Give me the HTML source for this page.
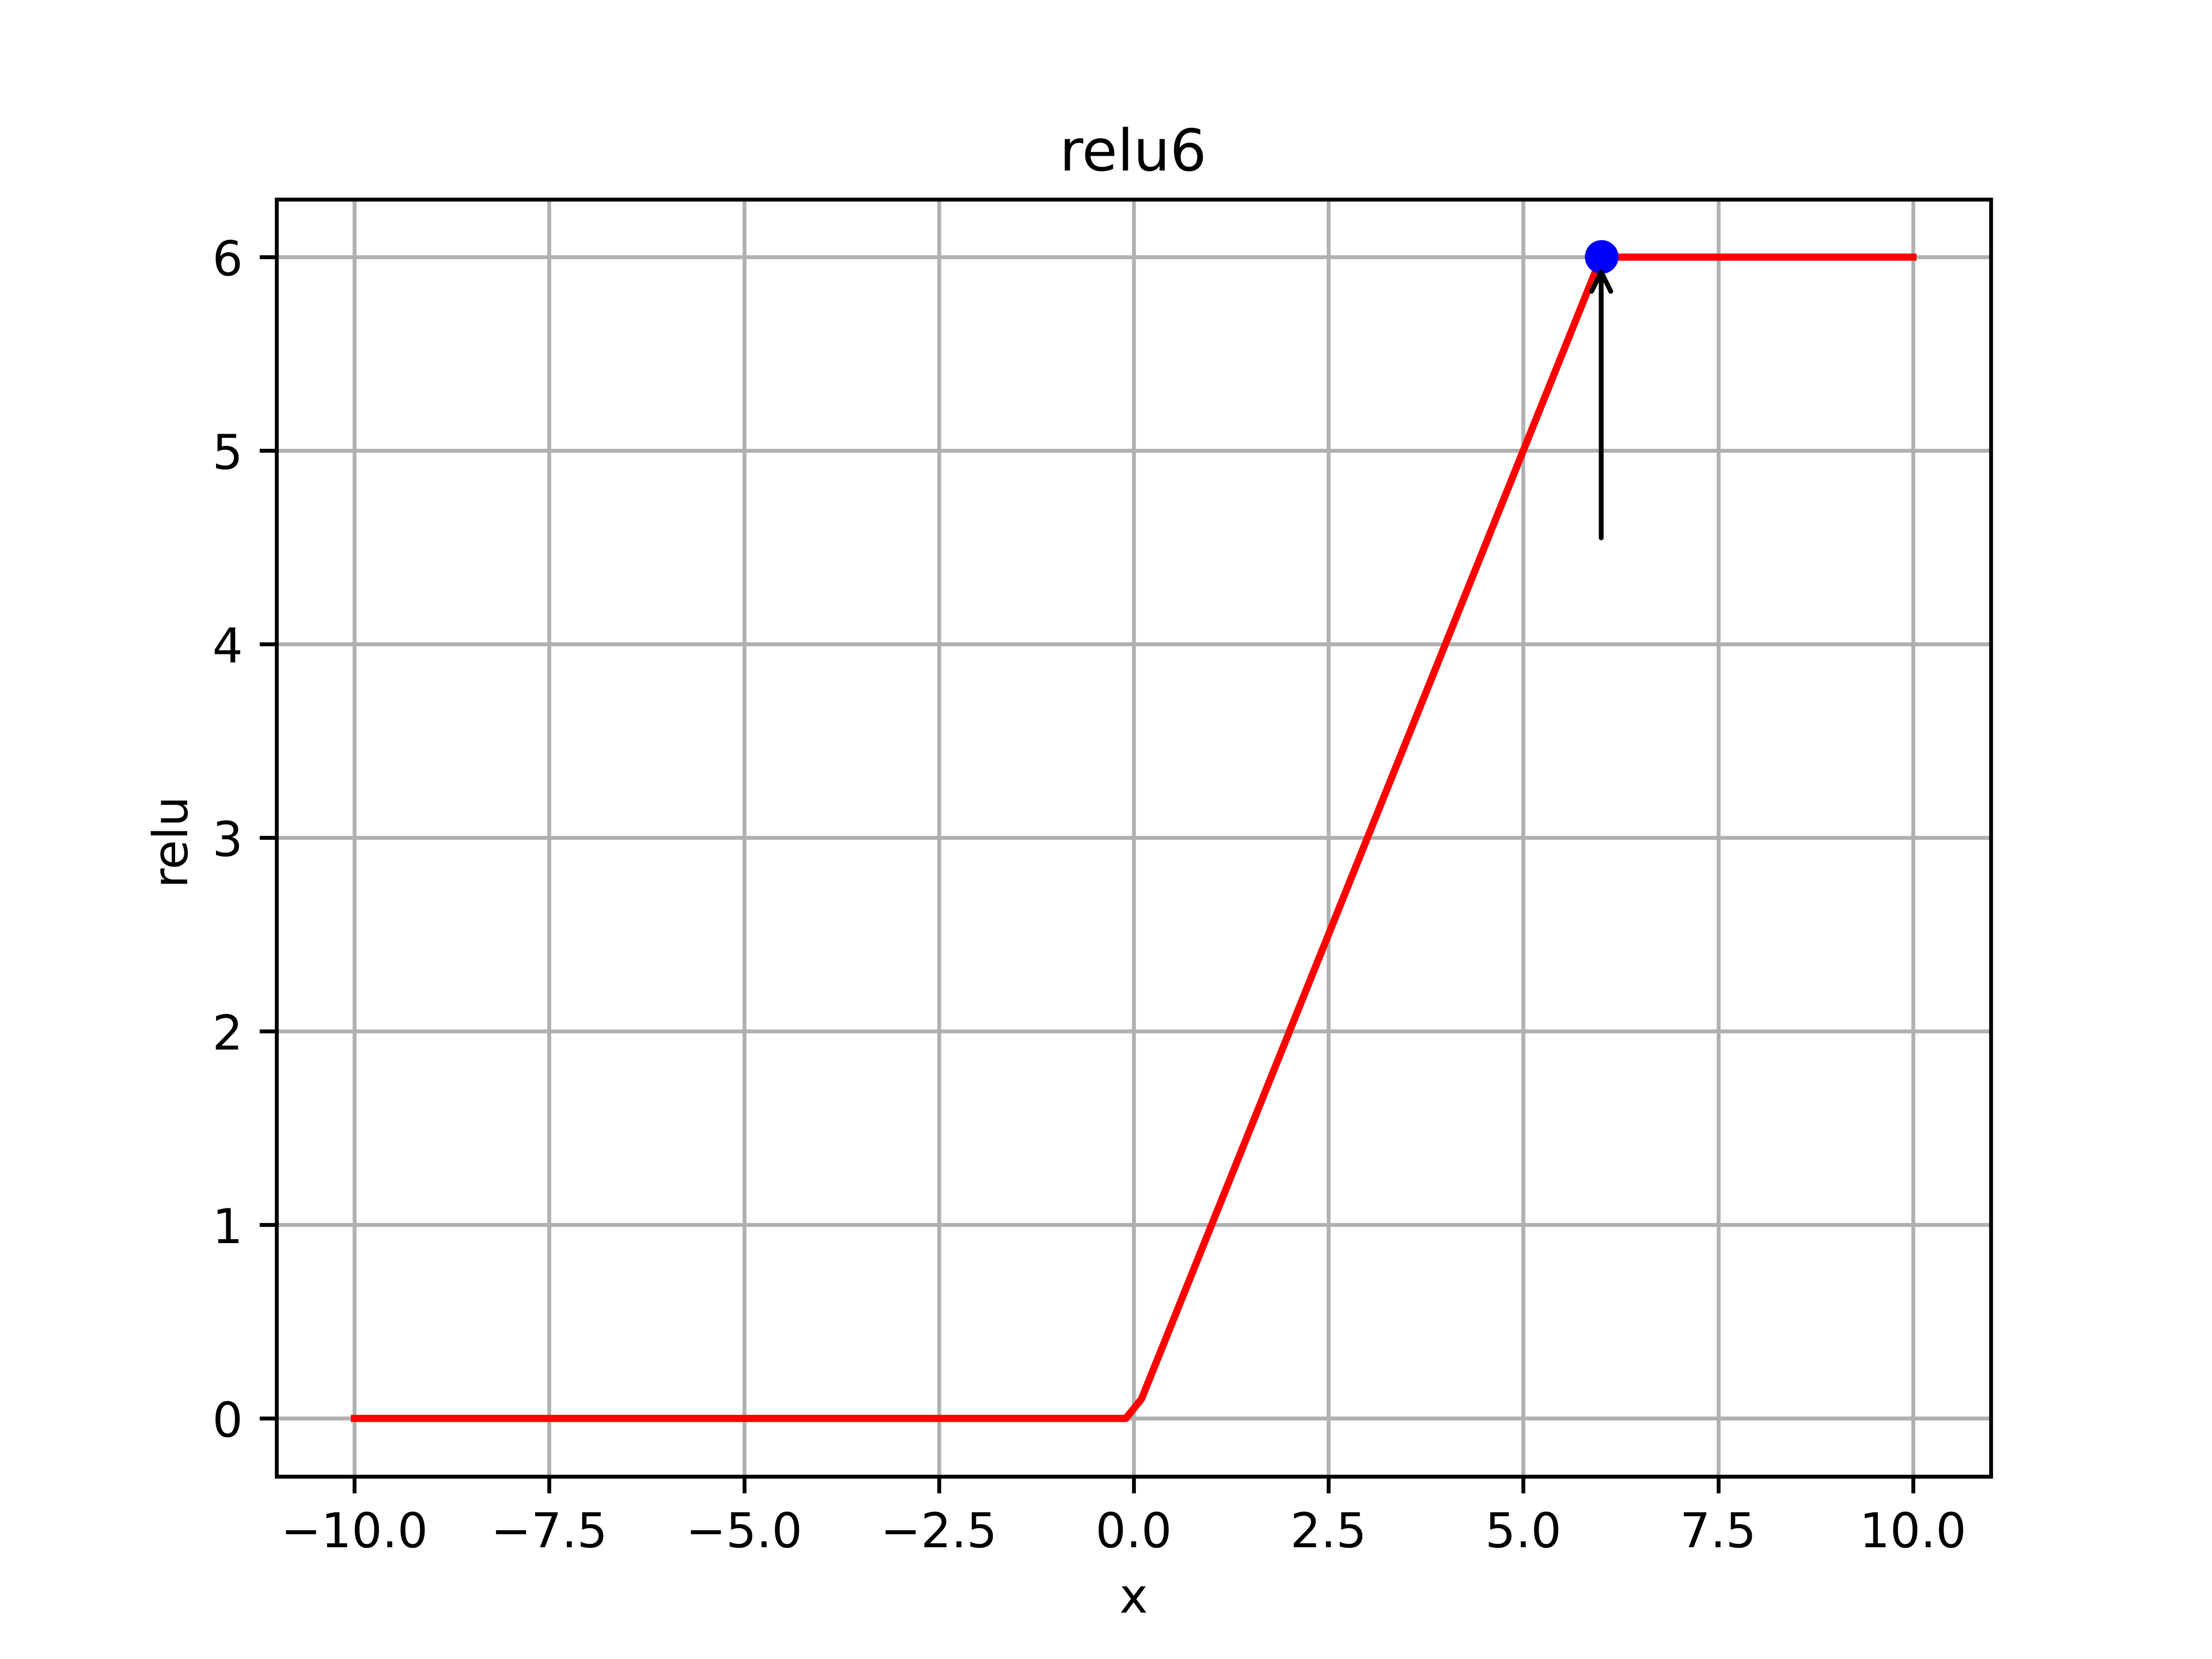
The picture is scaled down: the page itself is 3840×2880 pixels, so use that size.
<!DOCTYPE html>
<html lang="en">
<head>
<meta charset="utf-8">
<title>relu6</title>
<style>
  html, body { margin: 0; padding: 0; background: #ffffff; }
  body { width: 3840px; height: 2880px; overflow: hidden; }
  svg { display: block; }
  text { font-family: "DejaVu Sans", "Liberation Sans", sans-serif; fill: #000000; text-rendering: geometricPrecision; }
</style>
</head>
<body>
<svg id="chart" xmlns="http://www.w3.org/2000/svg" width="3840" height="2880" viewBox="0 0 3840 2880"></svg>
<script>
const xTickValues = [-10, -7.5, -5, -2.5, 0, 2.5, 5, 7.5, 10];
const xTickLabels = ["\u221210.0", "\u22127.5", "\u22125.0", "\u22122.5", "0.0", "2.5", "5.0", "7.5", "10.0"];
const yTickValues = [0, 1, 2, 3, 4, 5, 6];
const yTickLabels = ["0", "1", "2", "3", "4", "5", "6"];
const seriesX = [-10, -0.101, 0.101, 5.96, 6.162, 10];
const seriesY = [0, 0, 0.101, 5.96, 6, 6];
const markerPoint = [6, 6];
const arrowTail = [6, 4.5];
const arrowHead = [6, 6];
const xDomain = [-11, 11];
const yDomain = [-0.3, 6.3];
const titleText = "relu6";
const xLabelText = "x";
const yLabelText = "relu";

const svg = document.getElementById('chart');
const NS = 'http://www.w3.org/2000/svg';
const plot = { left: 480, right: 3456, top: 345.6, bottom: 2563.2 };
const STROKE = 6.667;

function xScale(v) { return plot.left + (v - xDomain[0]) / (xDomain[1] - xDomain[0]) * (plot.right - plot.left); }
function yScale(v) { return plot.bottom - (v - yDomain[0]) / (yDomain[1] - yDomain[0]) * (plot.bottom - plot.top); }
function snap(v) { return Math.floor(v + 0.5) + 0.5; }

function make(tag, props, parent) {
  const el = document.createElementNS(NS, tag);
  for (const k in props) el.setAttribute(k, props[k]);
  (parent || svg).appendChild(el);
  return el;
}

const bg = make('rect', { x: 0, y: 0, width: 3840, height: 2880, fill: '#ffffff' });



const grid = make('g', { stroke: '#b0b0b0', 'stroke-width': STROKE, fill: 'none' });



xTickValues.forEach(function (v) {
  const x = snap(xScale(v));
  const line = make('line', { x1: x, x2: x, y1: plot.top, y2: plot.bottom }, grid);
  
  
});
yTickValues.forEach(function (v) {
  const y = snap(yScale(v));
  const line = make('line', { x1: plot.left, x2: plot.right, y1: y, y2: y }, grid);
  
  
});

const seriesPath = seriesX.map(function (v, i) { return xScale(v).toFixed(2) + ',' + yScale(seriesY[i]).toFixed(2); }).join(' ');
const series = make('polyline', {
  points: seriesPath, fill: 'none', stroke: '#ff0000', 'stroke-width': 12.5,
  'stroke-linecap': 'square', 'stroke-linejoin': 'round'
});



const marker = make('circle', {
  cx: Math.round(xScale(markerPoint[0])) + 0.5, cy: Math.floor(yScale(markerPoint[1])),
  r: 29.17, fill: '#0000ff'
});



const arrow = make('g', {
  fill: 'none', stroke: '#000000', 'stroke-width': 8.333,
  'stroke-linecap': 'round', 'stroke-linejoin': 'round'
});



const arrowX = xScale(arrowHead[0]);
const arrowTip = yScale(arrowHead[1]) + 26;
const arrowEnd = yScale(arrowTail[1]) - 16.67;
const shaft = make('line', { x1: xScale(arrowTail[0]), x2: arrowX, y1: arrowEnd, y2: arrowTip }, arrow);


const barbs = make('polyline', {
  points: (arrowX - 16.67) + ',' + (arrowTip + 33.33) + ' ' + arrowX + ',' + arrowTip + ' ' + (arrowX + 16.67) + ',' + (arrowTip + 33.33)
}, arrow);



const ticks = make('g', { stroke: '#000000', 'stroke-width': STROKE, fill: 'none' });



xTickValues.forEach(function (v) {
  const x = snap(xScale(v));
  const tick = make('line', { x1: x, x2: x, y1: plot.bottom, y2: plot.bottom + 29.17 }, ticks);
  
  
});
yTickValues.forEach(function (v) {
  const y = snap(yScale(v));
  const tick = make('line', { x1: plot.left - 29.17, x2: plot.left, y1: y, y2: y }, ticks);
  
  
});

const spines = make('rect', {
  x: snap(plot.left), y: snap(plot.top),
  width: snap(plot.right) - snap(plot.left), height: snap(plot.bottom) - snap(plot.top),
  fill: 'none', stroke: '#000000', 'stroke-width': STROKE, 'stroke-linejoin': 'miter'
});



xTickLabels.forEach(function (label, i) {
  const t = make('text', { x: xScale(xTickValues[i]), y: 2686, 'font-size': 83.33, 'text-anchor': 'middle' });
  t.textContent = label;
  
  
});
yTickLabels.forEach(function (label, i) {
  const t = make('text', { x: 421.7, y: yScale(yTickValues[i]) + 31.5, 'font-size': 83.33, 'text-anchor': 'end' });
  t.textContent = label;
  
  
});

const title = make('text', { x: 1967, y: 296, 'font-size': 100, 'text-anchor': 'middle' });
title.textContent = titleText;



const xLabel = make('text', { x: 1968, y: 2799.5, 'font-size': 83.33, 'text-anchor': 'middle' });
xLabel.textContent = xLabelText;



const yLabel = make('text', { x: 0, y: 0, 'font-size': 83.33, 'text-anchor': 'middle', transform: 'translate(325 1462) rotate(-90)' });
yLabel.textContent = yLabelText;


</script>
</body>
</html>
